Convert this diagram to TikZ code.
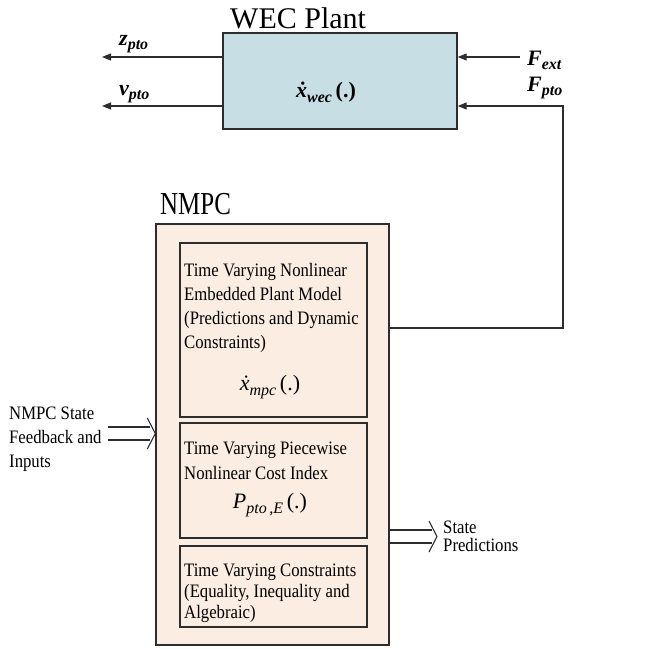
\documentclass[tikz,border=0pt]{standalone}
\usepackage{fontspec}
\setmainfont{Liberation Serif}
\newfontfamily\bodyfont[FakeStretch=0.88]{Liberation Serif}
\newfontfamily\headfont[FakeStretch=0.78]{Liberation Serif}
\newfontfamily\symfont{Liberation Serif}
\usetikzlibrary{arrows.meta,calc}
\definecolor{plantblue}{RGB}{199,222,229}
\definecolor{ctrlpeach}{RGB}{251,237,226}
\definecolor{edge}{RGB}{45,45,45}

% signal symbol: bold italic base letter with a lowered subscript
\newcommand\siglab[2]{{\symfont\bfseries\itshape\fontsize{22}{24}\selectfont #1\raisebox{-4pt}{\fontsize{16}{16}\selectfont #2}}}
% function symbol inside the blocks: italic letter, subscript, then (.)
\newcommand\funlab[3]{{\symfont\fontsize{22}{24}\selectfont#1{\itshape #2}\raisebox{-5pt}{\itshape\fontsize{16}{16}\selectfont #3}\,(.)}}

\begin{document}
\begin{tikzpicture}[x=1pt,y=-1pt,
  frame/.style={draw=edge,line width=1.4pt},
  sub/.style={draw=edge,line width=1.1pt,fill=ctrlpeach},
  sig/.style={draw=edge,line width=1.1pt,-{Triangle[length=9pt,width=7pt]}},
  wire/.style={draw=edge,line width=1.1pt},
  body/.style={font=\bodyfont\fontsize{19}{24}\selectfont,align=left,inner sep=0pt,anchor=north west},
  lbl/.style={inner sep=0pt},
  formula/.style={inner sep=0pt}
]
\useasboundingbox (0,0) rectangle (650,648);

% plant block
\node[frame,fill=plantblue,minimum width=234pt,minimum height=96pt] (wec) at (340,81) {};
\node[font=\fontsize{30}{32}\selectfont,inner sep=0pt,anchor=base west] (wectitle) at (230,28) {WEC Plant};
\node[formula] (xwec) at (326,92) {{\bfseries\funlab{}{\.x}{wec}}};

% controller block
\node[frame,fill=ctrlpeach,minimum width=233pt,minimum height=421pt] (nmpc) at (272.5,434.5) {};
\node[font=\headfont\fontsize{32}{36}\selectfont,inner sep=0pt,anchor=base west] (nmpctitle) at (160,214) {NMPC};

\node[sub,minimum width=187pt,minimum height=174pt] (model) at (273.5,330) {};
\node[sub,minimum width=187pt,minimum height=115pt] (cost) at (273.5,480.5) {};
\node[sub,minimum width=187pt,minimum height=81pt] (cons) at (273.5,586.5) {};

\node[body] (modeltxt) at (184,263.5) {Time Varying Nonlinear\\Embedded Plant Model\\(Predictions and Dynamic\\Constraints)};
\node[formula] (xmpc) at (270,387) {\funlab{}{\.x}{mpc}};

\node[body,font=\bodyfont\fontsize{19}{25}\selectfont] (costtxt) at (184,441.5) {Time Varying Piecewise\\Nonlinear Cost Index};
\node[formula] (ppto) at (270,505) {\funlab{}{P}{pto\,,E}};

\node[body,font=\bodyfont\fontsize{19}{21}\selectfont] (constxt) at (184,563.5) {Time Varying Constraints\\(Equality, Inequality and\\Algebraic)};

% plant outputs
\coordinate (zout) at (102,57);
\coordinate (vout) at (102,106);
\draw[sig] (wec.west |- zout) -- (zout);
\draw[sig] (wec.west |- vout) -- (vout);
\node[lbl,anchor=west] (zlbl) at (119,44) {\siglab{z}{pto}};
\node[lbl,anchor=west] (vlbl) at (119,94) {\siglab{v}{pto}};

% plant inputs
\coordinate (fext) at (520,57);
\coordinate (fpto) at (563,106);
\coordinate (fcorner) at (563,328);
\draw[sig] (fext) -- (wec.east |- fext);
\draw[sig] (nmpc.east |- fcorner) -- (fcorner) -- (fpto) -- (wec.east |- fpto);
\node[lbl,anchor=west] (fextlbl) at (527,60) {\siglab{F}{ext}};
\node[lbl,anchor=west] (fptolbl) at (527,88) {\siglab{F}{pto}};

% feedback input (double arrow)
\node[body] (fbtxt) at (9,406.5) {NMPC State\\Feedback and\\Inputs};
\coordinate (fbin) at (108,433.5);
\coordinate (tipL) at (nmpc.west |- fbin);
\draw[wire] ($(fbin)+(0,-6.5)$) -- ($(tipL)+(-5,-6.5)$);
\draw[wire] ($(fbin)+(0,6.5)$) -- ($(tipL)+(-5,6.5)$);
\draw[wire,line join=miter] ($(tipL)+(-8,-15.5)$) -- (tipL) -- ($(tipL)+(-8,15.5)$);

% state predictions output (double arrow)
\coordinate (spout) at (437,536.5);
\coordinate (srcR) at (nmpc.east |- spout);
\draw[wire] ($(srcR)+(0,-6.5)$) -- ($(spout)+(-5,-6.5)$);
\draw[wire] ($(srcR)+(0,6.5)$) -- ($(spout)+(-5,6.5)$);
\draw[wire,line join=miter] ($(spout)+(-8,-15.5)$) -- (spout) -- ($(spout)+(-8,15.5)$);
\node[body,font=\bodyfont\fontsize{19}{18}\selectfont] (sptxt) at (443,520.5) {State\\Predictions};
\end{tikzpicture}
\end{document}
